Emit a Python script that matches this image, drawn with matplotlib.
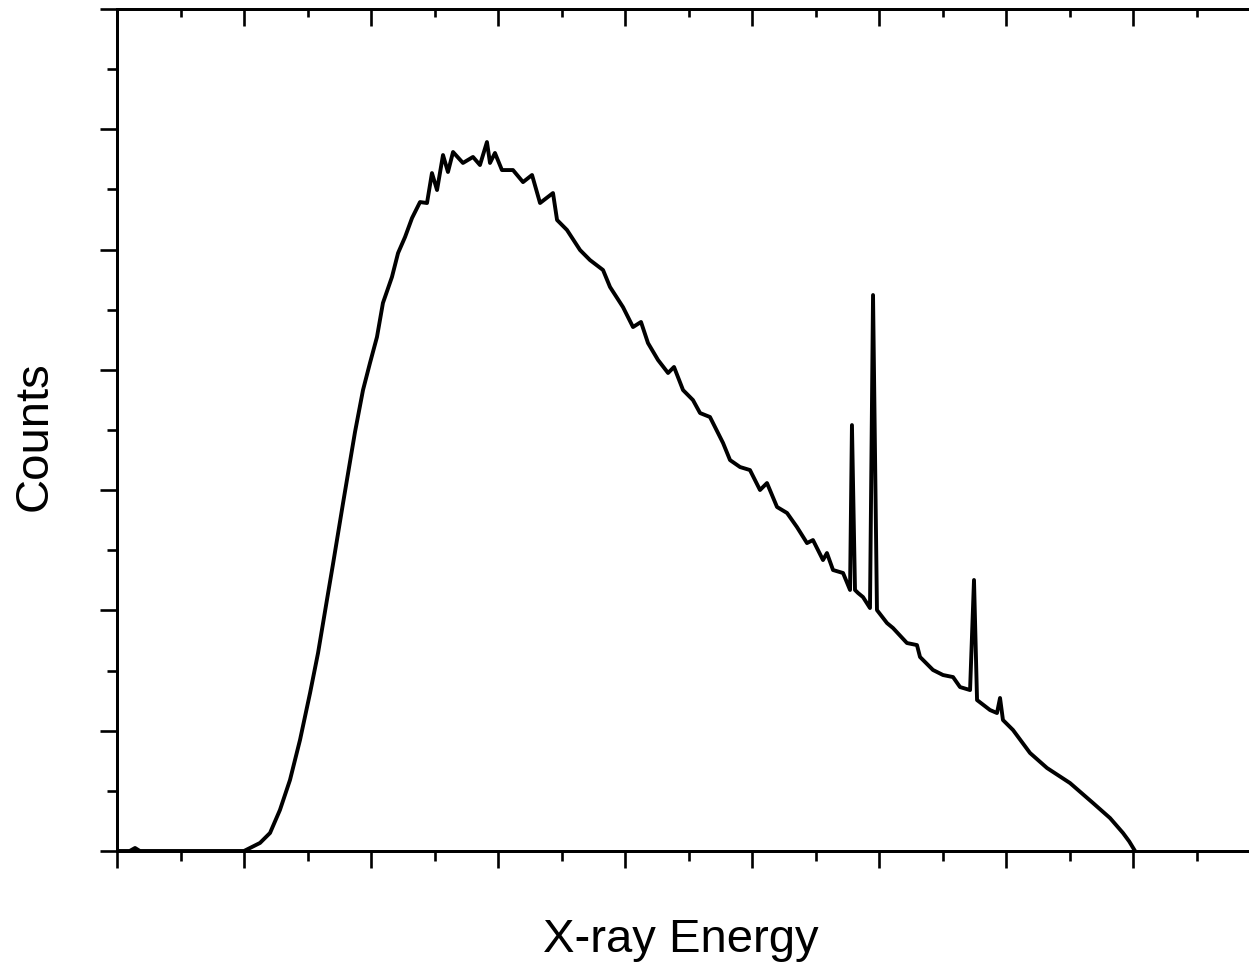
import numpy as np
import matplotlib
matplotlib.use('Agg')
import matplotlib.pyplot as plt
from matplotlib.ticker import MultipleLocator, NullFormatter

# spectrum: channel (energy) and counts
energy = [0, 10, 14.2, 18, 100, 104.7, 112.6, 120.5, 128.3, 136.2, 144.1, 152, 158.3,
          165.4, 170, 178, 187.4, 193.7, 199.2, 204.7, 209.4, 216.5, 221.3, 226.8,
          232.3, 238.6, 244.1, 248, 252, 256.7, 260.6, 264.6, 272.4, 280.3, 285.8,
          291.3, 293.7, 297.6, 303.1, 311.8, 319.7, 326.8, 333.1, 343.3, 346.5, 354.3,
          364.6, 372.4, 382.7, 388.2, 398.4, 406.3, 412.6, 418.1, 426, 433.9, 438.6,
          445.7, 453.5, 459.1, 466.9, 477.2, 482.7, 490.6, 498.4, 506.3, 511.8, 519.7,
          527.6, 535.4, 543.3, 548, 555.9, 559, 563.8, 571.7, 577.2, 578.7, 581.1,
          583.5, 587.4, 592.9, 595.3, 598.4, 606.3, 611, 622, 629.9, 632.3, 642.5,
          650.4, 658.3, 663.8, 671.7, 674.8, 677.2, 687.4, 692.9, 695.3, 697.6, 705.5,
          718.9, 732.3, 750.4, 768.5, 781.9, 792.1, 797, 801.6]
counts = [0, 0, 25, 0, 0, 25, 67, 150, 341, 590, 923, 1313, 1646,
          2093, 2380, 2893, 3483, 3832, 4057, 4273, 4556, 4772, 4971, 5104,
          5262, 5395, 5387, 5636, 5495, 5786, 5645, 5811, 5720, 5770, 5703,
          5894, 5720, 5803, 5661, 5661, 5561, 5620, 5387, 5470, 5246, 5163,
          4996, 4913, 4830, 4689, 4522, 4356, 4398, 4223, 4082, 3974, 4024,
          3832, 3749, 3641, 3608, 3392, 3250, 3192, 3167, 3001, 3059, 2860,
          2810, 2693, 2560, 2585, 2419, 2477, 2336, 2311, 2170, 3541, 2170,
          2145, 2111, 2020, 4622, 2003, 1895, 1854, 1729, 1712, 1613, 1505,
          1463, 1446, 1363, 1338, 2253, 1255, 1172, 1147, 1272, 1089, 1006,
          815, 690, 565, 399, 274, 150, 80, 0]

plt.rcParams['font.family'] = ['Liberation Sans', 'DejaVu Sans']

fig = plt.figure(figsize=(12.49, 9.73), dpi=100)
ax = fig.add_axes([117 / 1249, 122 / 973, 1143 / 1249, 842 / 973])
ax.plot(energy, counts, color='black', linewidth=2.8, solid_joinstyle='round')
ax.set_xlim(0, 900)
ax.set_ylim(0, 7000)

ax.xaxis.set_major_locator(MultipleLocator(100))
ax.xaxis.set_minor_locator(MultipleLocator(50))
ax.yaxis.set_major_locator(MultipleLocator(1000))
ax.yaxis.set_minor_locator(MultipleLocator(500))
ax.xaxis.set_major_formatter(NullFormatter())
ax.yaxis.set_major_formatter(NullFormatter())

for s in ax.spines.values():
    s.set_linewidth(1.9)

ax.tick_params(which='major', bottom=True, left=True, top=False, right=False,
               direction='out', length=12.5, width=1.9)
ax.tick_params(which='minor', bottom=True, left=True, top=False, right=False,
               direction='out', length=7.5, width=1.9)

# inward ticks on the top and right edges
ax2 = ax.twiny()
ax2.set_xlim(ax.get_xlim())
ax2.xaxis.set_major_locator(MultipleLocator(100))
ax2.xaxis.set_minor_locator(MultipleLocator(50))
ax2.xaxis.set_major_formatter(NullFormatter())
ax2.tick_params(which='major', direction='in', length=12.5, width=1.9)
ax2.tick_params(which='minor', direction='in', length=6, width=1.9)
ax3 = ax.twinx()
ax3.set_ylim(ax.get_ylim())
ax3.yaxis.set_major_locator(MultipleLocator(1000))
ax3.yaxis.set_major_formatter(NullFormatter())
ax3.tick_params(which='major', direction='in', length=4, width=1.9)
for a in (ax2, ax3):
    for s in a.spines.values():
        s.set_linewidth(1.9)

fig.text(681 / 1249, (973 - 940) / 973, 'X-ray Energy', fontsize=34,
         ha='center', va='center')
fig.text(35 / 1249, (973 - 436) / 973, 'Counts', fontsize=34,
         ha='center', va='center', rotation=90)

fig.savefig('out.png', dpi=100)
